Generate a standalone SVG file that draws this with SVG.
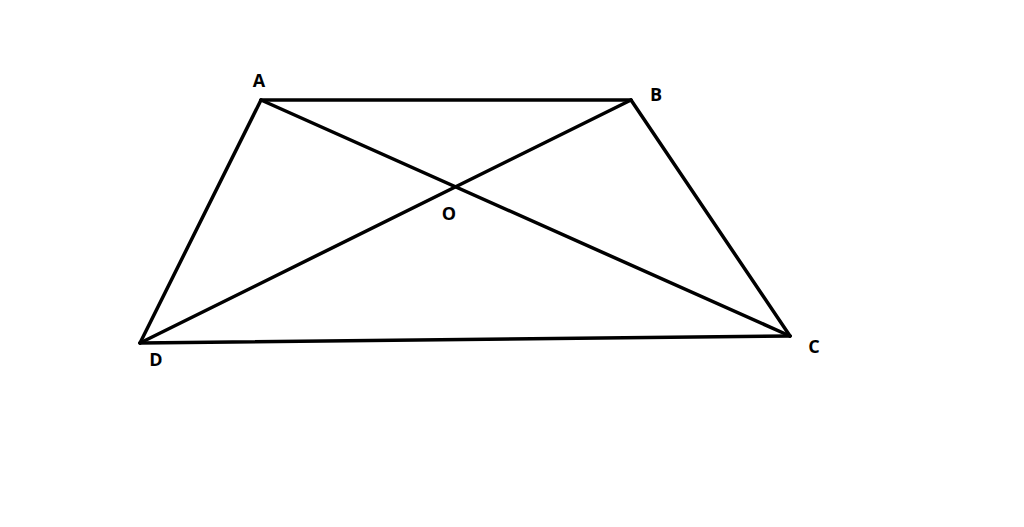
<svg xmlns="http://www.w3.org/2000/svg" width="1024" height="527" viewBox="0 0 1024 527">
<style>
.e{stroke:#000;stroke-width:3.5;fill:none;stroke-linecap:round;stroke-linejoin:round}
.l{font-family:"Open Sans","Liberation Sans",sans-serif;font-weight:bold;font-size:18px;fill:#000;text-anchor:middle}
</style>
<rect width="1024" height="527" fill="#fff"/>
<g id="connectors">
<path class="e" d="M261,100 L631,100"/>
<path class="e" d="M631,100 L790,336"/>
<path class="e" d="M790,336 L140,343"/>
<path class="e" d="M140,343 L261,100"/>
<path class="e" d="M261,100 L790,336"/>
<path class="e" d="M631,100 L140,343"/>
</g>
<g id="A"><text class="l" x="259" y="87">A</text></g>
<g id="B"><text class="l" x="656" y="101">B</text></g>
<g id="C"><text class="l" x="814" y="353">C</text></g>
<g id="D"><text class="l" x="156" y="366">D</text></g>
<g id="O"><text class="l" x="449" y="220">O</text></g>
</svg>
